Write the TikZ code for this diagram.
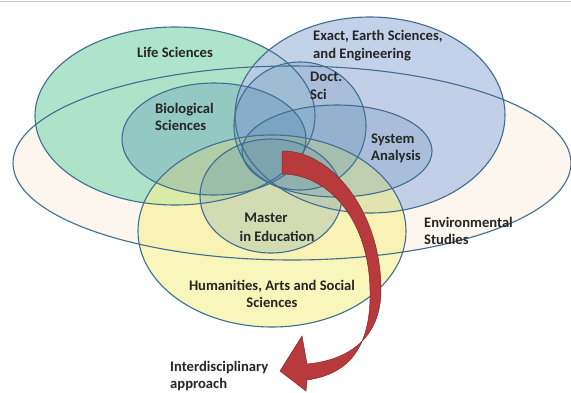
\documentclass[tikz,border=0pt]{standalone}
\usepackage{fontspec}
\setmainfont{Carlito}
\begin{document}
\begin{tikzpicture}[x=1pt,y=-1pt,
  ell/.style={draw=edgec,line width=1.1pt},
  lbl/.style={font=\bfseries\fontsize{14.6}{17.5}\selectfont,text=black!85,inner sep=0pt},
  lbll/.style={lbl,align=left,anchor=west},
  lblc/.style={lbl,align=center}]
\definecolor{edgec}{HTML}{3F6E92}
\definecolor{envc}{HTML}{FCF6EF}
\definecolor{lifec}{HTML}{A6E2C6}
\definecolor{exactc}{HTML}{B9C9E6}
\definecolor{humc}{HTML}{F6F18E}
\definecolor{innerc}{HTML}{4E86AE}
\definecolor{arrowc}{HTML}{B83A3C}
\definecolor{arrowe}{HTML}{7E2A2C}
\useasboundingbox (0,0) rectangle (571,392);
\fill[white] (0,0) rectangle (571,392);
\draw[black!20,line width=1pt] (0,1.5) -- (571,1.5);
% fills
\fill[envc] (292,163) ellipse [x radius=279,y radius=97];
\fill[lifec,fill opacity=0.9] (175,116) ellipse [x radius=140,y radius=89];
\fill[exactc,fill opacity=0.85] (370,115) ellipse [x radius=135,y radius=98];
\fill[humc,fill opacity=0.6] (272,231) ellipse [x radius=134,y radius=96];
\fill[innerc,fill opacity=0.28] (214,139) ellipse [x radius=92,y radius=56];
\fill[innerc,fill opacity=0.22] (300,126) ellipse [x radius=66,y radius=64];
\fill[innerc,fill opacity=0.22] (337,151) ellipse [x radius=95,y radius=46];
\fill[innerc,fill opacity=0.22] (271,196) ellipse [x radius=71,y radius=57];
% outlines
\draw[ell] (292,163) ellipse [x radius=279,y radius=97];
\draw[ell] (175,116) ellipse [x radius=140,y radius=89];
\draw[ell] (370,115) ellipse [x radius=135,y radius=98];
\draw[ell] (272,231) ellipse [x radius=134,y radius=96];
\draw[ell] (214,139) ellipse [x radius=92,y radius=56];
\draw[ell] (300,126) ellipse [x radius=66,y radius=64];
\draw[ell] (337,151) ellipse [x radius=95,y radius=46];
\draw[ell] (271,196) ellipse [x radius=71,y radius=57];
% arrow
\filldraw[fill=arrowc,draw=arrowe,line width=0.5pt]
  (282,151) .. controls (330,150) and (381,210) .. (381,290)
  .. controls (381,335) and (352,360) .. (307,364)
  -- (302,336) -- (280,371) -- (306,391) -- (307,380)
  .. controls (358,373) and (371,335) .. (370,290)
  .. controls (369,222) and (330,174) .. (282,174) -- cycle;
% labels
\node[lblc] (life) at (175,52) {Life Sciences};
\node[lbll] (exact) at (313,45.5) {Exact, Earth Sciences,\\and Engineering};
\node[lbll] (doct) at (310,86) {Doct.\\Sci};
\node[lbll] (bio) at (155,117) {Biological\\Sciences};
\node[lbll] (sys) at (371,148.5) {System\\Analysis};
\node[lbll] (env) at (424,231) {Environmental\\Studies};
\node[lblc] (mas1) at (266,218) {Master};
\node[lblc] (mas2) at (277,236) {in Education};
\node[lblc] (hum) at (272,294) {Humanities, Arts and Social\\Sciences};
\node[lbll] (inter) at (170,376) {Interdisciplinary\\approach};
\end{tikzpicture}
\end{document}
